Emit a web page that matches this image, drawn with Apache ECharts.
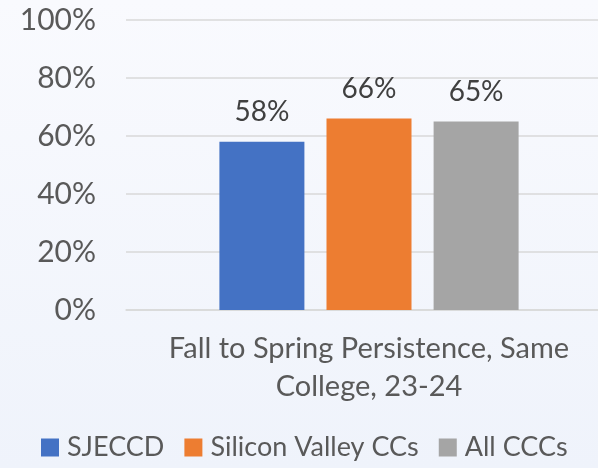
<!DOCTYPE html>
<html lang="en">
<head>
    <meta charset="UTF-8">
    <title>Fall to Spring Persistence</title>
    <style>
        html, body { margin: 0; padding: 0; }
    </style>
</head>
<body>
<div id="main" style="width: 598px;height:468px;"></div>
</body>
<script src="https://cdn.jsdelivr.net/npm/echarts@6/dist/echarts.min.js"></script>
<script>
    // 数据
    var categories = ['Fall to Spring Persistence, Same College, 23-24'];
    var seriesNames = ['SJECCD', 'Silicon Valley CCs', 'All CCCs'];
    var seriesValues = [[58], [66], [65]];
    var seriesColors = ['#4472C4', '#ED7D31', '#A5A5A5'];
    var yTicks = [0, 20, 40, 60, 80, 100];

    var font = 'Lato';
    var app = echarts.init(document.getElementById('main'));
    var option = {
        backgroundColor: new echarts.graphic.LinearGradient(0, 0, 0, 1, [
            {offset: 0, color: '#f9fafe'},
            {offset: 1, color: '#eff3fb'}
        ]),
        textStyle: {fontFamily: font},
        legend: {
            data: seriesNames,
            bottom: 2,
            left: 36,
            icon: 'rect',
            itemWidth: 18,
            itemHeight: 18,
            itemGap: 20,
            textStyle: {fontFamily: font, fontSize: 27, color: '#595959', padding: [0, 0, 0, 3]}
        },
        grid: {
            left: 126,
            right: -14,
            top: 20,
            height: 290,
            outerBoundsMode: 'none'
        },
        xAxis: {
            type: 'category',
            data: categories,
            axisLine: {lineStyle: {color: '#d9d9d9', width: 1.5}},
            axisTick: {show: false},
            axisLabel: {
                fontFamily: font,
                fontSize: 29,
                color: '#595959',
                margin: 20,
                lineHeight: 38,
                formatter: function (v) {
                    return v.replace('Same ', 'Same\n');
                }
            }
        },
        yAxis: {
            type: 'value',
            min: yTicks[0],
            max: yTicks[yTicks.length - 1],
            interval: 20,
            axisLine: {show: false},
            axisTick: {show: false},
            splitLine: {lineStyle: {color: '#d9d9d9', width: 1.5}},
            axisLabel: {
                fontFamily: font,
                fontSize: 30,
                color: '#595959',
                margin: 30,
                formatter: '{value}%'
            }
        },
        series: function () {
            var serie = [];
            for (var i = 0; i < seriesNames.length; i++) {
                serie.push({
                    name: seriesNames[i],
                    type: 'bar',
                    barWidth: 85,
                    barGap: '26%',
                    itemStyle: {color: seriesColors[i]},
                    label: {
                        show: true,
                        position: 'top',
                        distance: 16,
                        fontFamily: font,
                        fontSize: 28,
                        color: '#404040',
                        formatter: '{c}%'
                    },
                    data: seriesValues[i]
                });
            }
            return serie;
        }()
    };
    app.setOption(option);
</script>
</html>
